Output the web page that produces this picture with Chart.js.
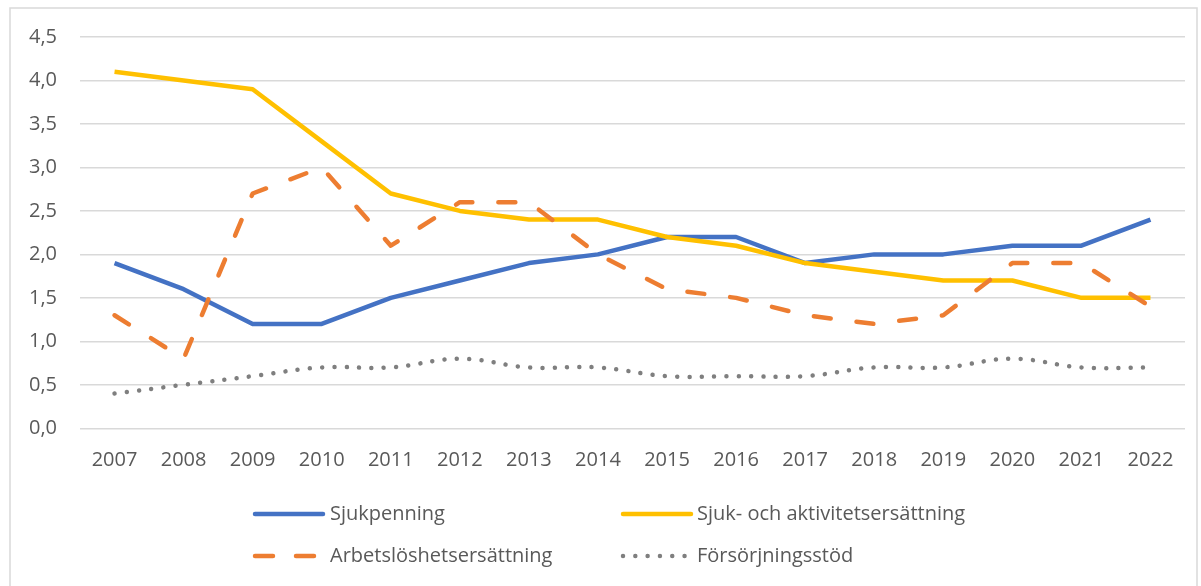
<!DOCTYPE html>
<html>
<head>
<meta charset="utf-8">
<script src="https://cdn.jsdelivr.net/npm/chart.js@4/dist/chart.umd.min.js"></script>
<style>
  body { margin: 0; background: #fff; }
</style>
</head>
<body>
<canvas id="lineChart" width="1201" height="586"></canvas>
<script>
// data
const years = ['2007', '2008', '2009', '2010', '2011', '2012', '2013', '2014', '2015', '2016', '2017', '2018', '2019', '2020', '2021', '2022'];
const sjukpenning = [1.9, 1.6, 1.2, 1.2, 1.5, 1.7, 1.9, 2.0, 2.2, 2.2, 1.9, 2.0, 2.0, 2.1, 2.1, 2.4];
const sjukAktivitet = [4.1, 4.0, 3.9, 3.3, 2.7, 2.5, 2.4, 2.4, 2.2, 2.1, 1.9, 1.8, 1.7, 1.7, 1.5, 1.5];
const arbetsloshet = [1.3, 0.8, 2.7, 3.0, 2.1, 2.6, 2.6, 2.0, 1.6, 1.5, 1.3, 1.2, 1.3, 1.9, 1.9, 1.4];
const forsorjning = [0.4, 0.5, 0.6, 0.7, 0.7, 0.8, 0.7, 0.7, 0.6, 0.6, 0.6, 0.7, 0.7, 0.8, 0.7, 0.7];
const seriesNames = ['Sjukpenning', 'Sjuk- och aktivitetsersättning', 'Arbetslöshetsersättning', 'Försörjningsstöd'];

const FONT = '"Open Sans", sans-serif';
const TEXT = '#595959';
const GRID = '#D9D9D9';

// legend slots (x of sample line start, y of row centre)
const legendSlots = [[253, 514], [621, 514], [253, 556], [621, 556]];

const frame = {
    id: 'frame',
    beforeDraw(chart) {
        const c = chart.ctx;
        c.save();
        c.strokeStyle = GRID;
        c.lineWidth = 1.5;
        c.strokeRect(10, 8, 1187, 620);
        c.restore();
    }
};

const legendPlugin = {
    id: 'sideLegend',
    afterDraw(chart) {
        const c = chart.ctx;
        chart.data.datasets.forEach(function (ds, i) {
            const x = legendSlots[i][0], y = legendSlots[i][1];
            const len = ds.borderDash.length ? 66 : 70;
            c.save();
            c.strokeStyle = ds.borderColor;
            c.lineWidth = ds.borderWidth;
            c.lineCap = 'round';
            c.setLineDash(ds.legendDash || ds.borderDash);
            c.beginPath();
            c.moveTo(x + 2, y);
            c.lineTo(x + len, y);
            c.stroke();
            c.restore();
            c.save();
            c.fillStyle = TEXT;
            c.font = '20px ' + FONT;
            c.textBaseline = 'middle';
            c.fillText(ds.label, x + (i % 2 ? 76 : 77), y);
            c.restore();
        });
    }
};

const ctx = document.getElementById('lineChart').getContext('2d');

new Chart(ctx, {
    type: 'line',
    data: {
        labels: years,
        datasets: [
            {
                label: seriesNames[0],
                data: sjukpenning,
                borderColor: '#4472C4',
                borderWidth: 4.5,
                borderDash: [],
                order: 4
            },
            {
                label: seriesNames[1],
                data: sjukAktivitet,
                borderColor: '#FFC000',
                borderWidth: 4.5,
                borderDash: [],
                order: 3
            },
            {
                label: seriesNames[2],
                data: arbetsloshet,
                borderColor: '#ED7D31',
                borderWidth: 4.5,
                borderDash: [17, 26],
                legendDash: [18, 23],
                borderCapStyle: 'round',
                order: 2
            },
            {
                label: seriesNames[3],
                data: forsorjning,
                borderColor: '#7F7F7F',
                borderWidth: 4.5,
                borderDash: [0.01, 12.3],
                legendDash: [0.01, 12.3],
                borderCapStyle: 'round',
                tension: 0.4,
                order: 1
            }
        ]
    },
    options: {
        responsive: false,
        animation: false,
        layout: { padding: { left: 0, top: 37, right: 16, bottom: 0 } },
        elements: {
            point: { radius: 0, hoverRadius: 0 },
            line: { fill: false, borderJoinStyle: 'round' }
        },
        plugins: {
            legend: { display: false },
            tooltip: { enabled: false }
        },
        scales: {
            x: {
                offset: true,
                grid: { display: false, drawTicks: false },
                border: { display: false },
                ticks: { color: TEXT, font: { family: FONT, size: 20 }, padding: 20, maxRotation: 0 },
                afterFit: function (scale) { scale.height = 157.7; }
            },
            y: {
                min: 0,
                max: 4.5,
                grid: { color: GRID, lineWidth: 1.5, drawTicks: false },
                border: { display: false },
                ticks: {
                    stepSize: 0.5,
                    color: TEXT,
                    font: { family: FONT, size: 20 },
                    padding: 23,
                    callback: function (v) { return v.toFixed(1).replace('.', ','); }
                },
                afterFit: function (scale) { scale.width = 80; }
            }
        }
    },
    plugins: [frame, legendPlugin]
});
</script>
</body>
</html>
